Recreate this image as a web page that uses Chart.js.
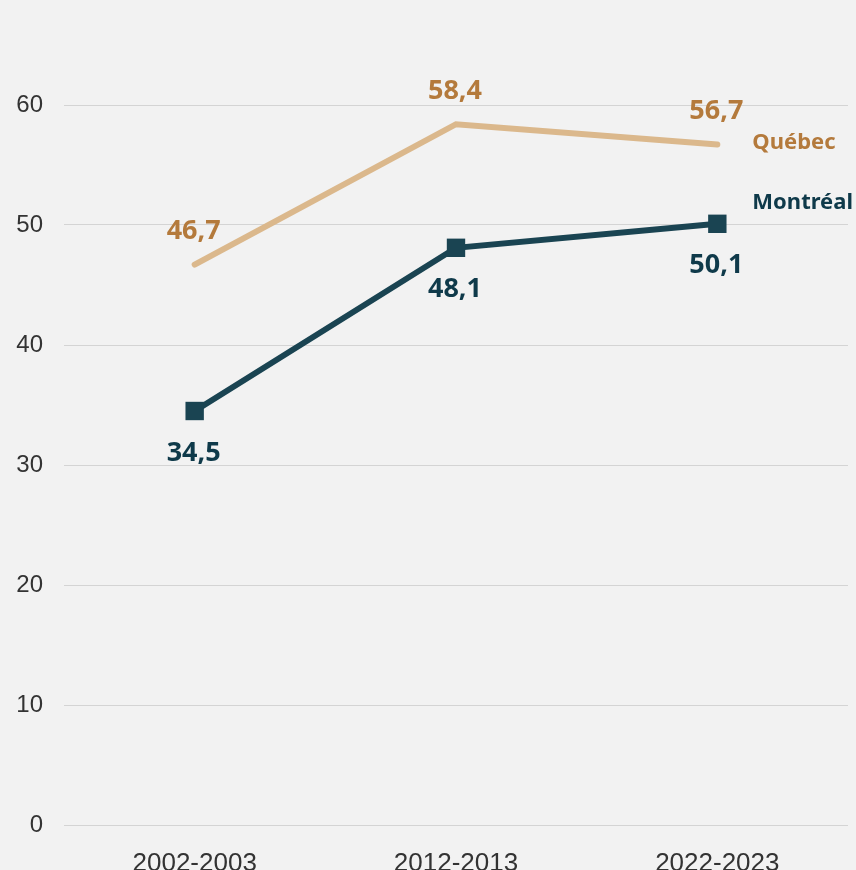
<!DOCTYPE html>
<html>
<head>
<meta charset="utf-8">
<script src="https://cdn.jsdelivr.net/npm/chart.js@4"></script>
<style>
  html, body { margin: 0; padding: 0; background: #f2f2f2; overflow: hidden; }
  #wrap { width: 856px; height: 870px; }
</style>
</head>
<body>
<div id="wrap"><canvas id="chart" width="856" height="870"></canvas></div>
<script>
// données
const periodes = ['2002-2003', '2012-2013', '2022-2023'];
const quebec = [46.7, 58.4, 56.7];
const montreal = [34.5, 48.1, 50.1];
const nomsSeries = ['Québec', 'Montréal'];

const couleurQc = '#dbb88c';
const texteQc = '#b47a3c';
const couleurMtl = '#1a4452';
const texteMtl = '#0f3a4a';

const fmt = v => v.toFixed(1).replace('.', ',');

// étiquettes de valeurs + nom de série à droite
const etiquettes = {
    id: 'etiquettes',
    afterDatasetsDraw(chart) {
        const ctx = chart.ctx;
        ctx.save();
        ctx.textAlign = 'center';
        ctx.textBaseline = 'middle';
        chart.data.datasets.forEach((ds, i) => {
            const meta = chart.getDatasetMeta(i);
            const dessus = i === 0;
            ctx.fillStyle = dessus ? texteQc : texteMtl;
            ctx.font = 'bold 27px "Noto Sans"';
            meta.data.forEach((pt, j) => {
                const y = dessus ? pt.y - 33 : pt.y + 42;
                ctx.fillText(fmt(ds.data[j]), pt.x - 1, y);
            });
            const last = meta.data[meta.data.length - 1];
            ctx.font = 'bold 22px "Noto Sans"';
            ctx.textAlign = 'left';
            ctx.fillText(nomsSeries[i], last.x + 35, dessus ? last.y - 2 : last.y - 21);
            ctx.textAlign = 'center';
        });
        ctx.restore();
    }
};

new Chart(document.getElementById('chart'), {
    type: 'line',
    data: {
        labels: periodes,
        datasets: [
            {
                label: nomsSeries[0],
                data: quebec,
                borderColor: couleurQc,
                borderWidth: 6,
                pointRadius: 0,
                borderCapStyle: 'round'
            },
            {
                label: nomsSeries[1],
                data: montreal,
                borderColor: couleurMtl,
                backgroundColor: couleurMtl,
                borderWidth: 6,
                pointStyle: 'rect',
                pointRadius: 13,
                pointBorderWidth: 0,
                pointHoverRadius: 13
            }
        ]
    },
    plugins: [etiquettes],
    options: {
        responsive: false,
        animation: false,
        layout: { autoPadding: false, padding: { top: 0, right: 8, left: 0, bottom: 0 } },
        plugins: { legend: { display: false }, tooltip: { enabled: false } },
        scales: {
            x: {
                offset: true,
                grid: { display: false },
                border: { display: false },
                ticks: {
                    color: '#333333',
                    font: { family: '"Liberation Sans"', size: 26 },
                    padding: 15,
                    maxRotation: 0
                },
                afterFit: s => { s.height = 45; s.paddingLeft = 0; s.paddingRight = 0; }
            },
            y: {
                bounds: 'data',
                min: 0,
                max: 68.75,
                grid: { color: '#d4d4d4', lineWidth: 1, drawTicks: false },
                border: { display: false },
                ticks: {
                    stepSize: 10,
                    includeBounds: false,
                    color: '#333333',
                    font: { family: '"Liberation Sans"', size: 24 },
                    padding: 21
                },
                afterFit: s => { s.width = 64; s.paddingTop = 0; s.paddingBottom = 0; }
            }
        }
    }
});
</script>
</body>
</html>
